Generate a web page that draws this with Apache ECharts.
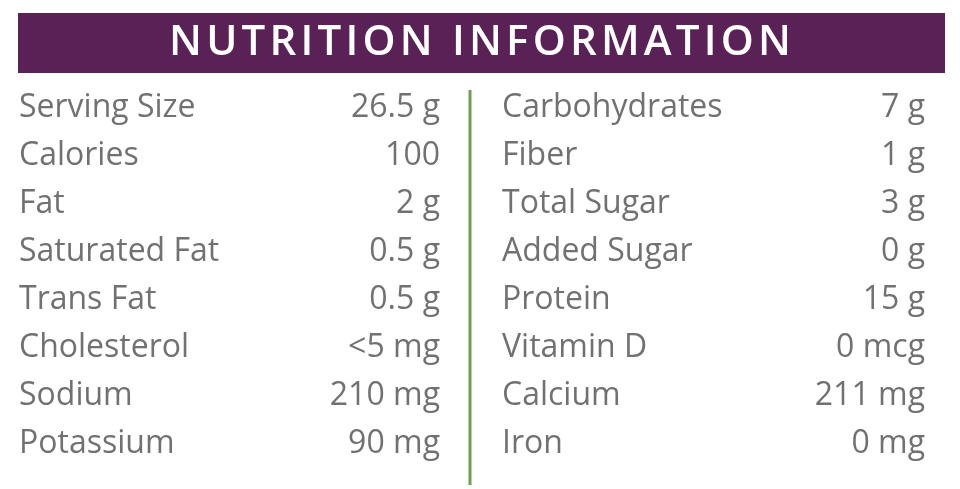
<!DOCTYPE html>
<html><head><meta charset="utf-8">
<script src="https://cdn.jsdelivr.net/npm/echarts@6/dist/echarts.min.js"></script>
<style>html,body{margin:0;padding:0;background:#fff}#c{width:960px;height:489px}</style>
</head><body><div id="c"></div>
<script>
const leftNames = ["Serving Size","Calories","Fat","Saturated Fat","Trans Fat","Cholesterol","Sodium","Potassium"];
const leftValues = ["26.5 g","100","2 g","0.5 g","0.5 g","<5 mg","210 mg","90 mg"];
const rightNames = ["Carbohydrates","Fiber","Total Sugar","Added Sugar","Protein","Vitamin D","Calcium","Iron"];
const rightValues = ["7 g","1 g","3 g","0 g","15 g","0 mcg","211 mg","0 mg"];
const titleText = "NUTRITION INFORMATION";

const chart = echarts.init(document.getElementById('c'));
const txt = {fontFamily:'Open Sans', fontSize:32, color:'#4d4d4d'};
function col(names, values, idx){
  return [
    {type:'scatter', xAxisIndex:idx, yAxisIndex:idx, symbolSize:0, silent:true,
     data:names.map((n,i)=>({value:[0,i], label:{formatter:n}})),
     label:{show:true, position:'inside', align:'left', ...txt}},
    {type:'scatter', xAxisIndex:idx, yAxisIndex:idx, symbolSize:0, silent:true,
     data:values.map((n,i)=>({value:[1,i], label:{formatter:n}})),
     label:{show:true, position:'inside', align:'right', ...txt}}
  ];
}
const yCats = leftNames.map((_,i)=>i);
chart.setOption({
  animation:false,
  title:{text:titleText.split('').join('\u200A'), left:'center', top:17, textStyle:{color:'#fff', fontFamily:'Open Sans', fontSize:42, fontWeight:600}},
  graphic:[
    {type:'rect', z:-1, shape:{x:18,y:13,width:927,height:60}, style:{fill:'#5a2157'}},
    {type:'line', shape:{x1:470,y1:90,x2:470,y2:485}, style:{stroke:'#6f9e55', lineWidth:3}}
  ],
  grid:[{left:19, top:84, width:421, height:384},{left:502, top:84, width:423, height:384}],
  xAxis:[0,1].map(i=>({gridIndex:i, type:'value', min:0, max:1, show:false})),
  yAxis:[0,1].map(i=>({gridIndex:i, type:'category', data:yCats, inverse:true, show:false})),
  series:[...col(leftNames,leftValues,0), ...col(rightNames,rightValues,1)]
});
</script></body></html>
